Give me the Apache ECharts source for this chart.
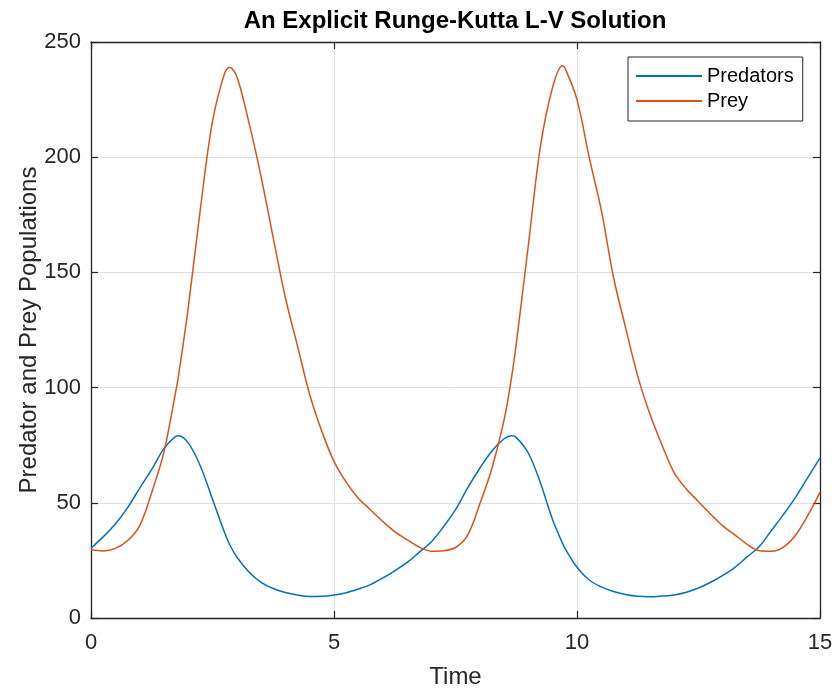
<!DOCTYPE html>
<html>
<head>
<meta charset="utf-8">
<script src="https://cdn.jsdelivr.net/npm/echarts@6/dist/echarts.min.js"></script>
<style>
  html, body { margin: 0; padding: 0; background: #ffffff; }
  #chart { width: 838px; height: 691px; }
</style>
</head>
<body>
<div id="chart"></div>
<script>
// Lotka-Volterra populations, sampled every 0.25 time units plus the turning points
const time = [
  0, 0.25, 0.5, 0.75, 1, 1.25, 1.5, 1.75, 1.8, 2, 2.25, 2.5, 2.75, 2.85,
  3, 3.25, 3.5, 3.75, 4, 4.25, 4.5, 4.75, 5, 5.25, 5.5, 5.75,
  6, 6.25, 6.5, 6.75, 7, 7.25, 7.5, 7.75, 8, 8.25, 8.5, 8.65, 8.75,
  9, 9.25, 9.5, 9.7, 9.75, 10, 10.25, 10.5, 10.75, 11, 11.25, 11.5, 11.75,
  12, 12.25, 12.5, 12.75, 13, 13.25, 13.5, 13.75, 14, 14.25, 14.5, 14.75, 15
];
const predators = [
  30.3, 35.2, 40.8, 47.8, 56.3, 64.5, 73.5, 78.9, 79.1, 76, 66, 51.5, 37, 32,
  26.5, 20, 15.5, 12.8, 11.1, 10, 9.3, 9.4, 10, 11, 12.6, 14.5,
  17.3, 20.5, 24, 28.5, 33, 39.5, 47, 56.5, 65, 72.5, 77.8, 79.1, 78.4,
  71.5, 58.5, 42.5, 32.5, 30.3, 22, 16.5, 13.5, 11.5, 10.2, 9.4, 9.2, 9.5,
  10, 11.2, 13, 15.5, 18.5, 22, 26.5, 31, 38, 45, 52.5, 61, 69.5
];
const prey = [
  29.6, 29.1, 30.2, 33.5, 40, 54.5, 72, 99, 105, 134.5, 177.5, 215.5, 236.5, 239,
  235, 215, 191.5, 165, 139, 118, 97, 81, 68, 59, 52, 47,
  42, 37.5, 34, 30.8, 29, 29.2, 30.6, 36, 49.5, 65, 86, 104, 119,
  162, 205, 230.5, 239.7, 238.8, 225, 200, 177, 148, 126, 105, 88.5, 75,
  63, 56, 50.5, 45, 40, 36, 32, 29.2, 29, 30.8, 36, 44.5, 54.5
];
const xTicks = [0, 5, 10, 15];
const yTicks = [0, 50, 100, 150, 200, 250];

const FONT = 'Liberation Sans, Arial, Helvetica, sans-serif';
const AXIS = '#262626';
const GRID = '#dedede';

const pairs = (ys) => time.map((t, i) => [t, ys[i]]);

const xRange = { min: xTicks[0], max: xTicks[xTicks.length - 1], interval: xTicks[1] - xTicks[0] };
const yRange = { min: yTicks[0], max: yTicks[yTicks.length - 1], interval: yTicks[1] - yTicks[0] };

const tickStyle = { show: true, inside: true, length: 7, lineStyle: { color: AXIS, width: 1.2 } };
const lineStyleAxis = { show: true, onZero: false, lineStyle: { color: AXIS, width: 1.3 } };

const chart = echarts.init(document.getElementById('chart'), null, { renderer: 'canvas' });
chart.setOption({
  backgroundColor: '#ffffff',
  animation: false,
  title: {
    text: 'An Explicit Runge-Kutta L-V Solution',
    left: 455,
    textAlign: 'center',
    top: 9,
    padding: 0,
    textStyle: { fontFamily: FONT, fontSize: 24, fontWeight: 'bold', color: '#000000' }
  },
  legend: {
    data: ['Predators', 'Prey'],
    orient: 'vertical',
    left: 628,
    top: 57,
    padding: [9, 9, 10, 8],
    itemGap: 5,
    itemWidth: 66,
    itemHeight: 2,
    icon: 'rect',
    borderColor: AXIS,
    borderWidth: 1,
    backgroundColor: '#ffffff',
    textStyle: { fontFamily: FONT, fontSize: 20, color: '#000000', lineHeight: 20, height: 20 }
  },
  grid: { left: 91, right: 18, top: 42, bottom: 73, containLabel: false, outerBoundsMode: 'none' },
  xAxis: [
    {
      type: 'value',
      min: xRange.min, max: xRange.max, interval: xRange.interval,
      name: 'Time', nameLocation: 'middle', nameGap: 47, nameMoveOverlap: false,
      nameTextStyle: { fontFamily: FONT, fontSize: 24, color: AXIS },
      axisLine: lineStyleAxis,
      axisTick: tickStyle,
      axisLabel: { fontFamily: FONT, fontSize: 22, color: AXIS, margin: 14 },
      splitLine: { show: true, lineStyle: { color: GRID, width: 1 } }
    },
    {
      type: 'value', position: 'top',
      min: xRange.min, max: xRange.max, interval: xRange.interval,
      axisLine: lineStyleAxis,
      axisTick: tickStyle,
      axisLabel: { show: false },
      splitLine: { show: false }
    }
  ],
  yAxis: [
    {
      type: 'value',
      min: yRange.min, max: yRange.max, interval: yRange.interval,
      name: 'Predator and Prey Populations', nameLocation: 'middle', nameGap: 50, nameMoveOverlap: false,
      nameTextStyle: { fontFamily: FONT, fontSize: 24, color: AXIS },
      axisLine: lineStyleAxis,
      axisTick: tickStyle,
      axisLabel: { fontFamily: FONT, fontSize: 22, color: AXIS, margin: 10 },
      splitLine: { show: true, lineStyle: { color: GRID, width: 1 } }
    },
    {
      type: 'value', position: 'right',
      min: yRange.min, max: yRange.max, interval: yRange.interval,
      axisLine: lineStyleAxis,
      axisTick: tickStyle,
      axisLabel: { show: false },
      splitLine: { show: false }
    }
  ],
  series: [
    {
      name: 'Predators', type: 'line', xAxisIndex: 0, yAxisIndex: 0,
      data: pairs(predators),
      smooth: 0.35,
      symbol: 'none', showSymbol: false,
      lineStyle: { color: '#0072BD', width: 1.5 },
      itemStyle: { color: '#0072BD' }
    },
    {
      name: 'Prey', type: 'line', xAxisIndex: 0, yAxisIndex: 0,
      data: pairs(prey),
      smooth: 0.35,
      symbol: 'none', showSymbol: false,
      lineStyle: { color: '#D95319', width: 1.5 },
      itemStyle: { color: '#D95319' }
    }
  ]
});
</script>
</body>
</html>
